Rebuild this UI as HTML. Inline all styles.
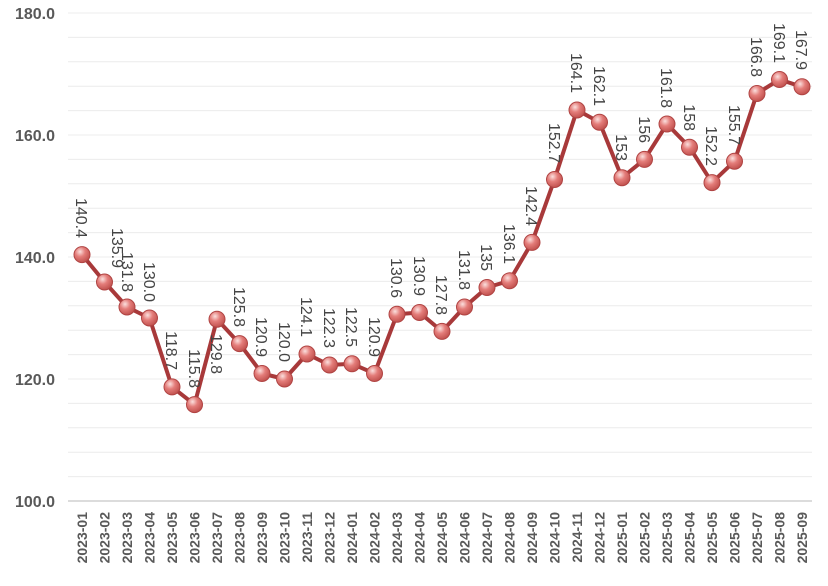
<!DOCTYPE html>
<html><head><meta charset="utf-8"><style>
html,body{margin:0;padding:0;background:#fff;}
svg{display:block;font-family:"Liberation Sans",sans-serif;}
</style></head><body>
<svg width="828" height="586" viewBox="0 0 828 586" xmlns="http://www.w3.org/2000/svg">
<defs>
<radialGradient id="g" cx="0.38" cy="0.32" r="0.7">
<stop offset="0" stop-color="#fbe0de"/>
<stop offset="0.45" stop-color="#e47d7a"/>
<stop offset="1" stop-color="#c0504d"/>
</radialGradient>
</defs>
<g stroke="#ececec" stroke-width="1">
<line x1="68" x2="812" y1="476.6" y2="476.6"/><line x1="68" x2="812" y1="452.2" y2="452.2"/><line x1="68" x2="812" y1="427.8" y2="427.8"/><line x1="68" x2="812" y1="403.4" y2="403.4"/><line x1="68" x2="812" y1="379" y2="379"/><line x1="68" x2="812" y1="354.6" y2="354.6"/><line x1="68" x2="812" y1="330.2" y2="330.2"/><line x1="68" x2="812" y1="305.8" y2="305.8"/><line x1="68" x2="812" y1="281.4" y2="281.4"/><line x1="68" x2="812" y1="257" y2="257"/><line x1="68" x2="812" y1="232.6" y2="232.6"/><line x1="68" x2="812" y1="208.2" y2="208.2"/><line x1="68" x2="812" y1="183.8" y2="183.8"/><line x1="68" x2="812" y1="159.4" y2="159.4"/><line x1="68" x2="812" y1="135" y2="135"/><line x1="68" x2="812" y1="110.6" y2="110.6"/><line x1="68" x2="812" y1="86.2" y2="86.2"/><line x1="68" x2="812" y1="61.8" y2="61.8"/><line x1="68" x2="812" y1="37.4" y2="37.4"/><line x1="68" x2="812" y1="13" y2="13"/>
</g>
<line x1="68" x2="812" y1="501" y2="501" stroke="#d0d0d0" stroke-width="1.5"/>
<g fill="#595959" font-weight="bold" font-size="16" text-anchor="end">
<text x="55" y="507">100.0</text><text x="55" y="385">120.0</text><text x="55" y="263">140.0</text><text x="55" y="141">160.0</text><text x="55" y="19">180.0</text>
</g>
<polyline fill="none" stroke="#a8393a" stroke-width="4" stroke-linejoin="round" points="82,254.6 104.5,282 127,307 149.5,318 172,386.9 194.5,404.6 217,319.2 239.5,343.6 262,373.5 284.5,379 307,354 329.5,365 352,363.8 374.5,373.5 397,314.3 419.5,312.5 442,331.4 464.5,307 487,287.5 509.5,280.8 532,242.4 554.5,179.5 577,110 599.5,122.2 622,177.7 644.5,159.4 667,124 689.5,147.2 712,182.6 734.5,161.2 757,93.5 779.5,79.5 802,86.8"/>
<g fill="url(#g)" stroke="#b04443" stroke-width="1">
<circle cx="82" cy="254.6" r="8"/><circle cx="104.5" cy="282" r="8"/><circle cx="127" cy="307" r="8"/><circle cx="149.5" cy="318" r="8"/><circle cx="172" cy="386.9" r="8"/><circle cx="194.5" cy="404.6" r="8"/><circle cx="217" cy="319.2" r="8"/><circle cx="239.5" cy="343.6" r="8"/><circle cx="262" cy="373.5" r="8"/><circle cx="284.5" cy="379" r="8"/><circle cx="307" cy="354" r="8"/><circle cx="329.5" cy="365" r="8"/><circle cx="352" cy="363.8" r="8"/><circle cx="374.5" cy="373.5" r="8"/><circle cx="397" cy="314.3" r="8"/><circle cx="419.5" cy="312.5" r="8"/><circle cx="442" cy="331.4" r="8"/><circle cx="464.5" cy="307" r="8"/><circle cx="487" cy="287.5" r="8"/><circle cx="509.5" cy="280.8" r="8"/><circle cx="532" cy="242.4" r="8"/><circle cx="554.5" cy="179.5" r="8"/><circle cx="577" cy="110" r="8"/><circle cx="599.5" cy="122.2" r="8"/><circle cx="622" cy="177.7" r="8"/><circle cx="644.5" cy="159.4" r="8"/><circle cx="667" cy="124" r="8"/><circle cx="689.5" cy="147.2" r="8"/><circle cx="712" cy="182.6" r="8"/><circle cx="734.5" cy="161.2" r="8"/><circle cx="757" cy="93.5" r="8"/><circle cx="779.5" cy="79.5" r="8"/><circle cx="802" cy="86.8" r="8"/>
</g>
<g fill="#454545" font-size="16" text-anchor="end">
<text transform="translate(76,238) rotate(90)">140.4</text>
<text transform="translate(112,268) rotate(90)">135.9</text>
<text transform="translate(122,292) rotate(90)">131.8</text>
<text transform="translate(144,302) rotate(90)">130.0</text>
<text transform="translate(166,370) rotate(90)">118.7</text>
<text transform="translate(189,388) rotate(90)">115.8</text>
<text transform="translate(211,334) rotate(90)" text-anchor="start">129.8</text>
<text transform="translate(234,327) rotate(90)">125.8</text>
<text transform="translate(256,357) rotate(90)">120.9</text>
<text transform="translate(279,362) rotate(90)">120.0</text>
<text transform="translate(301,337) rotate(90)">124.1</text>
<text transform="translate(324,348) rotate(90)">122.3</text>
<text transform="translate(346,347) rotate(90)">122.5</text>
<text transform="translate(369,357) rotate(90)">120.9</text>
<text transform="translate(391,298) rotate(90)">130.6</text>
<text transform="translate(414,296) rotate(90)">130.9</text>
<text transform="translate(436,315) rotate(90)">127.8</text>
<text transform="translate(459,290) rotate(90)">131.8</text>
<text transform="translate(481,271) rotate(90)">135</text>
<text transform="translate(504,264) rotate(90)">136.1</text>
<text transform="translate(526,226) rotate(90)">142.4</text>
<text transform="translate(549,163) rotate(90)">152.7</text>
<text transform="translate(571,93) rotate(90)">164.1</text>
<text transform="translate(594,106) rotate(90)">162.1</text>
<text transform="translate(616,161) rotate(90)">153</text>
<text transform="translate(639,143) rotate(90)">156</text>
<text transform="translate(661,108) rotate(90)">161.8</text>
<text transform="translate(684,131) rotate(90)">158</text>
<text transform="translate(706,166) rotate(90)">152.2</text>
<text transform="translate(729,145) rotate(90)">155.7</text>
<text transform="translate(751,77) rotate(90)">166.8</text>
<text transform="translate(774,63) rotate(90)">169.1</text>
<text transform="translate(796,70) rotate(90)">167.9</text>
</g>
<g fill="#595959" font-size="14" font-weight="bold" text-anchor="end">
<text transform="translate(87,512) rotate(-90)">2023-01</text>
<text transform="translate(109.5,512) rotate(-90)">2023-02</text>
<text transform="translate(132,512) rotate(-90)">2023-03</text>
<text transform="translate(154.5,512) rotate(-90)">2023-04</text>
<text transform="translate(177,512) rotate(-90)">2023-05</text>
<text transform="translate(199.5,512) rotate(-90)">2023-06</text>
<text transform="translate(222,512) rotate(-90)">2023-07</text>
<text transform="translate(244.5,512) rotate(-90)">2023-08</text>
<text transform="translate(267,512) rotate(-90)">2023-09</text>
<text transform="translate(289.5,512) rotate(-90)">2023-10</text>
<text transform="translate(312,512) rotate(-90)">2023-11</text>
<text transform="translate(334.5,512) rotate(-90)">2023-12</text>
<text transform="translate(357,512) rotate(-90)">2024-01</text>
<text transform="translate(379.5,512) rotate(-90)">2024-02</text>
<text transform="translate(402,512) rotate(-90)">2024-03</text>
<text transform="translate(424.5,512) rotate(-90)">2024-04</text>
<text transform="translate(447,512) rotate(-90)">2024-05</text>
<text transform="translate(469.5,512) rotate(-90)">2024-06</text>
<text transform="translate(492,512) rotate(-90)">2024-07</text>
<text transform="translate(514.5,512) rotate(-90)">2024-08</text>
<text transform="translate(537,512) rotate(-90)">2024-09</text>
<text transform="translate(559.5,512) rotate(-90)">2024-10</text>
<text transform="translate(582,512) rotate(-90)">2024-11</text>
<text transform="translate(604.5,512) rotate(-90)">2024-12</text>
<text transform="translate(627,512) rotate(-90)">2025-01</text>
<text transform="translate(649.5,512) rotate(-90)">2025-02</text>
<text transform="translate(672,512) rotate(-90)">2025-03</text>
<text transform="translate(694.5,512) rotate(-90)">2025-04</text>
<text transform="translate(717,512) rotate(-90)">2025-05</text>
<text transform="translate(739.5,512) rotate(-90)">2025-06</text>
<text transform="translate(762,512) rotate(-90)">2025-07</text>
<text transform="translate(784.5,512) rotate(-90)">2025-08</text>
<text transform="translate(807,512) rotate(-90)">2025-09</text>
</g>
</svg>
</body></html>
